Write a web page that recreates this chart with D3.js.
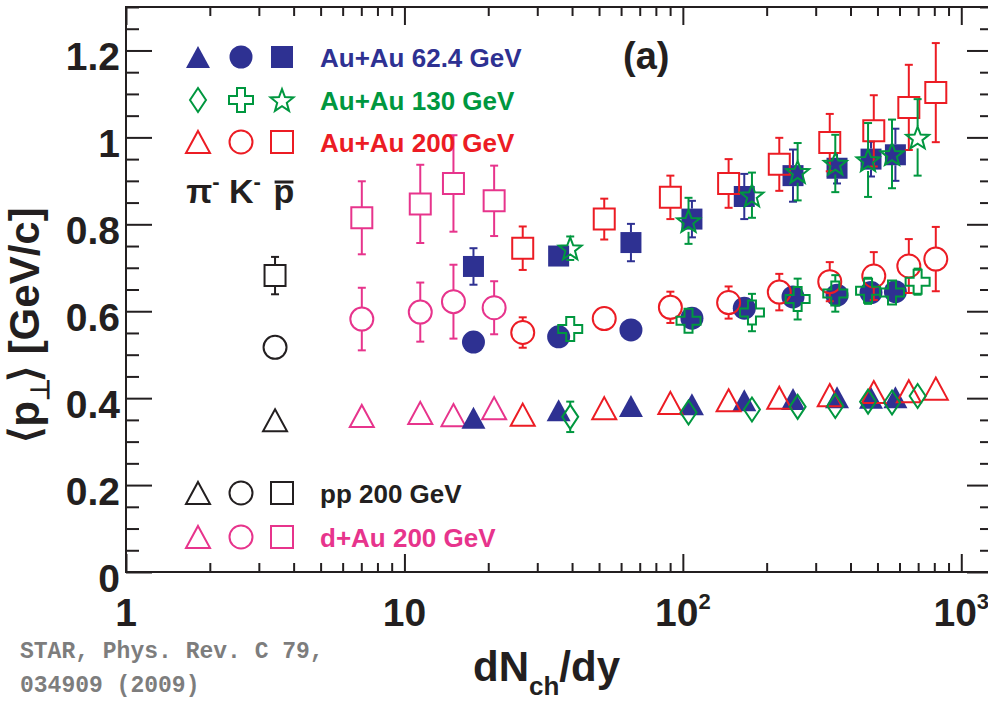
<!DOCTYPE html>
<html>
<head>
<meta charset="utf-8">
<script src="https://cdn.jsdelivr.net/npm/d3@7"></script>
<style>
  body { margin: 0; background: #fff; }
  svg { display: block; }
  text { font-family: "Liberation Sans", Arial, Helvetica, sans-serif; font-weight: bold; }
  text.note { font-family: "Liberation Mono", "Courier New", monospace; font-weight: bold; }
</style>
</head>
<body>
<svg id="chart" width="988" height="703"></svg>
<script>
// ---------------- data: mean pT of pi-, K-, pbar vs dNch/dy ----------------
// p+p 200 GeV
const ppX = [3.43];
const ppPion = [0.349],  ppPionErr = [0.01];
const ppKaon = [0.517],  ppKaonErr = [0.02];
const ppProton = [0.682], ppProtonErr = [0.043];

// d+Au 200 GeV
const dAuX = [7.03, 11.4, 15.0, 21.0];
const dAuPion = [0.359, 0.366, 0.361, 0.377],   dAuPionErr = [0.01, 0.01, 0.01, 0.01];
const dAuKaon = [0.582, 0.598, 0.622, 0.608],   dAuKaonErr = [0.072, 0.068, 0.085, 0.061];
const dAuProton = [0.815, 0.847, 0.894, 0.854], dAuProtonErr = [0.084, 0.090, 0.111, 0.081];

// Au+Au 62.4 GeV
const au62X = [17.7, 35.8, 65.1, 107.8, 166.2, 248.7, 357.9, 474, 580];
const au62Pion = [0.355, 0.372, 0.382, 0.386, 0.395, 0.398, 0.402, 0.401, 0.402];
const au62PionErr = [0.02, 0.02, 0.02, 0.02, 0.02, 0.02, 0.02, 0.02, 0.02];
const au62Kaon = [0.529, 0.541, 0.557, 0.584, 0.607, 0.633, 0.637, 0.643, 0.645];
const au62KaonErr = [0.02, 0.02, 0.02, 0.02, 0.02, 0.02, 0.02, 0.02, 0.02];
const au62Proton = [0.703, 0.727, 0.758, 0.812, 0.864, 0.912, 0.929, 0.950, 0.960];
const au62ProtonErr = [0.042, 0.02, 0.043, 0.042, 0.052, 0.06, 0.035, 0.04, 0.06];

// Au+Au 200 GeV
const au200X = [26.6, 52.2, 90.2, 146, 222, 337, 485, 648, 810];
const au200Pion = [0.362, 0.377, 0.389, 0.395, 0.401, 0.407, 0.414, 0.416, 0.422];
const au200PionErr = [0.02, 0.02, 0.02, 0.02, 0.02, 0.02, 0.02, 0.02, 0.02];
const au200Kaon = [0.551, 0.583, 0.609, 0.620, 0.644, 0.668, 0.681, 0.704, 0.720];
const au200KaonErr = [0.035, 0.025, 0.036, 0.037, 0.042, 0.045, 0.055, 0.062, 0.074];
const au200Proton = [0.745, 0.812, 0.862, 0.894, 0.938, 0.988, 1.015, 1.069, 1.103];
const au200ProtonErr = [0.05, 0.047, 0.05, 0.056, 0.061, 0.066, 0.082, 0.098, 0.114];

// Au+Au 130 GeV
const au130X = [39.4, 104.8, 177.1, 258.4, 352.8, 462.6, 564, 697];
const au130Pion = [0.357, 0.367, 0.374, 0.380, 0.382, 0.392, 0.390, 0.405];
const au130PionErr = [0.035, 0.02, 0.02, 0.02, 0.02, 0.02, 0.02, 0.02];
const au130Kaon = [0.559, 0.578, 0.597, 0.628, 0.641, 0.647, 0.643, 0.668];
const au130KaonErr = [0.02, 0.02, 0.043, 0.047, 0.042, 0.03, 0.02, 0.03];
const au130Proton = [0.745, 0.808, 0.867, 0.921, 0.940, 0.948, 0.962, 1.0];
const au130ProtonErr = [0.027, 0.053, 0.052, 0.066, 0.066, 0.085, 0.079, 0.088];

// axis ticks
const xMajorTicks = [1, 10, 100, 1000];
const xTickBase = ["1", "10", "10", "10"];
const xTickExp = ["", "", "2", "3"];
const yMajorTicks = [0, 0.2, 0.4, 0.6, 0.8, 1.0, 1.2];
const yTickLabels = ["0", "0.2", "0.4", "0.6", "0.8", "1", "1.2"];

// legend entries
const legendSystems = ["Au+Au 62.4 GeV", "Au+Au 130 GeV", "Au+Au 200 GeV", "pp 200 GeV", "d+Au 200 GeV"];
const particleLabels = ["π", "K", "p"];

// ---------------- styling ----------------
const C = {
  navy: "#2e3192", green: "#00973f", red: "#ec1c24",
  black: "#231f20", pink: "#e7348c", axis: "#231f20", note: "#7d7d7d"
};

const svg = d3.select("#chart");
const x = d3.scaleLog().domain([1, 1300]).range([126, 993]);
const y = d3.scaleLinear().domain([0, 1.3]).range([572, 7]);

// ---------------- marker shapes (bbox-centred, size = full width) ----------------
const shapes = {
  triangle: { draw(c, s) { const r = s / 2, h = r * 0.92; c.moveTo(0, -h); c.lineTo(r, h); c.lineTo(-r, h); c.closePath(); } },
  circle:   { draw(c, s) { const r = s / 2; c.moveTo(r, 0); c.arc(0, 0, r, 0, 2 * Math.PI); c.closePath(); } },
  square:   { draw(c, s) { const r = s / 2; c.moveTo(-r, -r); c.lineTo(r, -r); c.lineTo(r, r); c.lineTo(-r, r); c.closePath(); } },
  diamond:  { draw(c, s) { const h = s / 2, w = s / 3; c.moveTo(0, -h); c.lineTo(w, 0); c.lineTo(0, h); c.lineTo(-w, 0); c.closePath(); } },
  cross:    { draw(c, s) { const r = s / 2, a = s / 6;
                const p = [[-a,-r],[a,-r],[a,-a],[r,-a],[r,a],[a,a],[a,r],[-a,r],[-a,a],[-r,a],[-r,-a],[-a,-a]];
                c.moveTo(p[0][0], p[0][1]); p.slice(1).forEach(q => c.lineTo(q[0], q[1])); c.closePath(); } },
  star:     { draw(c, s) { const R = s / 2, ri = R * 0.42;
                for (let i = 0; i < 10; i++) {
                  const rr = i % 2 ? ri : R, ang = -Math.PI / 2 + i * Math.PI / 5;
                  const px = rr * Math.cos(ang), py = rr * Math.sin(ang) + R * 0.1;
                  if (i === 0) c.moveTo(px, py); else c.lineTo(px, py);
                }
                c.closePath(); } }
};
const shapeSize = { triangle: 24, circle: 23, square: 21, diamond: 24, cross: 24, star: 24 };
const halfHeight = { triangle: 11, circle: 11.5, square: 10.5, diamond: 12, cross: 12, star: 11 };

function markerPath(shape, size) {
  return d3.symbol().type(shapes[shape]).size(size || shapeSize[shape])();
}

// ---------------- frame and axes ----------------
const axisG = svg.append("g").attr("stroke-width", 2);
const xMinor = [];
[1, 10, 100].forEach(d => { for (let k = 2; k <= 9; k++) xMinor.push(d * k); });
const yMinor = d3.range(0, 1.3001, 0.05).filter(v => Math.abs(Math.round(v * 5) - v * 5) > 1e-6);

function styleAxis(g) {
  g.select(".domain").remove();
  g.selectAll(".tick line").attr("stroke", C.axis).attr("stroke-width", 2);
  g.selectAll(".tick text").remove();
}
// bottom (ticks inward)
axisG.append("g").attr("transform", `translate(0,${y(0)})`)
  .call(d3.axisTop(x).tickValues(xMajorTicks).tickSize(18)).call(styleAxis);
axisG.append("g").attr("transform", `translate(0,${y(0)})`)
  .call(d3.axisTop(x).tickValues(xMinor).tickSize(9)).call(styleAxis);
// top
axisG.append("g").attr("transform", `translate(0,${y(1.3)})`)
  .call(d3.axisBottom(x).tickValues(xMajorTicks).tickSize(18)).call(styleAxis);
axisG.append("g").attr("transform", `translate(0,${y(1.3)})`)
  .call(d3.axisBottom(x).tickValues(xMinor).tickSize(9)).call(styleAxis);
// left
axisG.append("g").attr("transform", `translate(${x(1)},0)`)
  .call(d3.axisRight(y).tickValues(yMajorTicks).tickSize(26)).call(styleAxis);
axisG.append("g").attr("transform", `translate(${x(1)},0)`)
  .call(d3.axisRight(y).tickValues(yMinor).tickSize(13)).call(styleAxis);
// right
axisG.append("g").attr("transform", `translate(${x(1300)},0)`)
  .call(d3.axisLeft(y).tickValues(yMajorTicks).tickSize(26)).call(styleAxis);
axisG.append("g").attr("transform", `translate(${x(1300)},0)`)
  .call(d3.axisLeft(y).tickValues(yMinor).tickSize(13)).call(styleAxis);

svg.append("rect")
  .attr("x", x(1)).attr("y", y(1.3))
  .attr("width", x(1300) - x(1)).attr("height", y(0) - y(1.3))
  .attr("fill", "none").attr("stroke", C.axis).attr("stroke-width", 2);

// tick labels
svg.append("g").selectAll("text").data(yMajorTicks).join("text")
  .attr("x", x(1) - 6).attr("y", d => y(d) + 20)
  .attr("text-anchor", "end").attr("font-size", 39).attr("fill", C.axis)
  .text((d, i) => yTickLabels[i]);

const xl = svg.append("g").selectAll("text").data(xMajorTicks).join("text")
  .attr("x", d => x(d)).attr("y", 626)
  .attr("text-anchor", "middle").attr("font-size", 39).attr("fill", C.axis);
xl.append("tspan").text((d, i) => xTickBase[i]);
xl.filter((d, i) => xTickExp[i]).append("tspan")
  .attr("font-size", 22).attr("dy", -17)
  .text(d => xTickExp[xMajorTicks.indexOf(d)]);

// axis titles
const xt = svg.append("text").attr("x", 473).attr("y", 681).attr("font-size", 42).attr("fill", C.axis);
xt.append("tspan").text("dN");
xt.append("tspan").attr("font-size", 26).attr("dy", 14).text("ch");
xt.append("tspan").attr("dy", -14).text("/dy");

const yt = svg.append("text").attr("transform", "translate(39,325) rotate(-90)")
  .attr("text-anchor", "middle").attr("font-size", 42).attr("fill", C.axis);
yt.append("tspan").text("⟨p");
yt.append("tspan").attr("font-size", 26).attr("dy", 10).text("⊥");
yt.append("tspan").attr("dy", -10).attr("dx", -4).text("⟩ [GeV/c]");

// panel tag
svg.append("text").attr("x", 623).attr("y", 69).attr("font-size", 38).attr("fill", C.axis).text("(a)");

// ---------------- data series ----------------
function series(xs, ys, es, shape, color, filled) {
  return { pts: xs.map((v, i) => ({ x: v, y: ys[i], e: es[i] })), shape, color, filled };
}
const allSeries = [
  series(ppX, ppPion, ppPionErr, "triangle", C.black, false),
  series(ppX, ppKaon, ppKaonErr, "circle", C.black, false),
  series(ppX, ppProton, ppProtonErr, "square", C.black, false),
  series(dAuX, dAuPion, dAuPionErr, "triangle", C.pink, false),
  series(dAuX, dAuKaon, dAuKaonErr, "circle", C.pink, false),
  series(dAuX, dAuProton, dAuProtonErr, "square", C.pink, false),
  series(au62X, au62Pion, au62PionErr, "triangle", C.navy, true),
  series(au62X, au62Kaon, au62KaonErr, "circle", C.navy, true),
  series(au62X, au62Proton, au62ProtonErr, "square", C.navy, true),
  series(au200X, au200Pion, au200PionErr, "triangle", C.red, false),
  series(au200X, au200Kaon, au200KaonErr, "circle", C.red, false),
  series(au200X, au200Proton, au200ProtonErr, "square", C.red, false),
  series(au130X, au130Pion, au130PionErr, "diamond", C.green, false),
  series(au130X, au130Kaon, au130KaonErr, "cross", C.green, false),
  series(au130X, au130Proton, au130ProtonErr, "star", C.green, false)
];

const dataG = svg.append("g");
allSeries.forEach(s => {
  const g = dataG.append("g");
  const hh = halfHeight[s.shape];
  // error bars drawn only outside the marker, with short end caps
  s.pts.forEach(p => {
    const cx = x(p.x), cy = y(p.y);
    const up = y(p.y + p.e), dn = y(p.y - p.e);
    [[cy - hh, up], [cy + hh, dn]].forEach(([a, b]) => {
      if (Math.abs(b - cy) <= hh) return;
      g.append("line").attr("x1", cx).attr("x2", cx).attr("y1", a).attr("y2", b)
        .attr("stroke", s.color).attr("stroke-width", 2);
      g.append("line").attr("x1", cx - 4).attr("x2", cx + 4).attr("y1", b).attr("y2", b)
        .attr("stroke", s.color).attr("stroke-width", 2);
    });
  });
  g.selectAll("path.m").data(s.pts).join("path").attr("class", "m")
    .attr("transform", p => `translate(${x(p.x)},${y(p.y)})`)
    .attr("d", markerPath(s.shape))
    .attr("fill", s.filled ? s.color : "none")
    .attr("stroke", s.color).attr("stroke-width", s.filled ? 0 : 2);
});

// ---------------- legend ----------------
const legendCols = [198, 241, 282];
const legendRows = [
  { y: 57,  shapes: ["triangle", "circle", "square"], color: C.navy, filled: true,  label: legendSystems[0] },
  { y: 100, shapes: ["diamond", "cross", "star"],     color: C.green, filled: false, label: legendSystems[1] },
  { y: 142, shapes: ["triangle", "circle", "square"], color: C.red,  filled: false, label: legendSystems[2] },
  { y: 493, shapes: ["triangle", "circle", "square"], color: C.black, filled: false, label: legendSystems[3] },
  { y: 537, shapes: ["triangle", "circle", "square"], color: C.pink, filled: false, label: legendSystems[4] }
];
const lg = svg.append("g");
legendRows.forEach(r => {
  r.shapes.forEach((sh, i) => {
    lg.append("path").attr("transform", `translate(${legendCols[i]},${r.y})`)
      .attr("d", markerPath(sh, sh === "square" ? 22 : undefined))
      .attr("fill", r.filled ? r.color : "none")
      .attr("stroke", r.color).attr("stroke-width", r.filled ? 0 : 2);
  });
  lg.append("text").attr("x", 320).attr("y", r.y + 10).attr("font-size", 26)
    .attr("fill", r.color).text(r.label);
});

// particle labels: pi-, K-, anti-proton
const partX = [203, 245, 284];
particleLabels.forEach((lab, i) => {
  const t = lg.append("text").attr("x", partX[i]).attr("y", 203)
    .attr("text-anchor", "middle").attr("font-size", 34).attr("fill", C.black);
  t.append("tspan").text(lab);
  if (i < 2) t.append("tspan").attr("font-size", 22).attr("dy", -14).text("-");
  if (i === 2) {
    const bb = t.node().getBBox();
    lg.append("line").attr("x1", bb.x + 1).attr("x2", bb.x + bb.width - 1)
      .attr("y1", 182).attr("y2", 182).attr("stroke", C.black).attr("stroke-width", 3);
  }
});

// reference note
const note = svg.append("text").attr("class", "note")
  .attr("font-size", 23).attr("fill", C.note);
note.append("tspan").attr("x", 20).attr("y", 658).text("STAR, Phys. Rev. C 79,");
note.append("tspan").attr("x", 20).attr("y", 692).text("034909 (2009)");
</script>
</body>
</html>
